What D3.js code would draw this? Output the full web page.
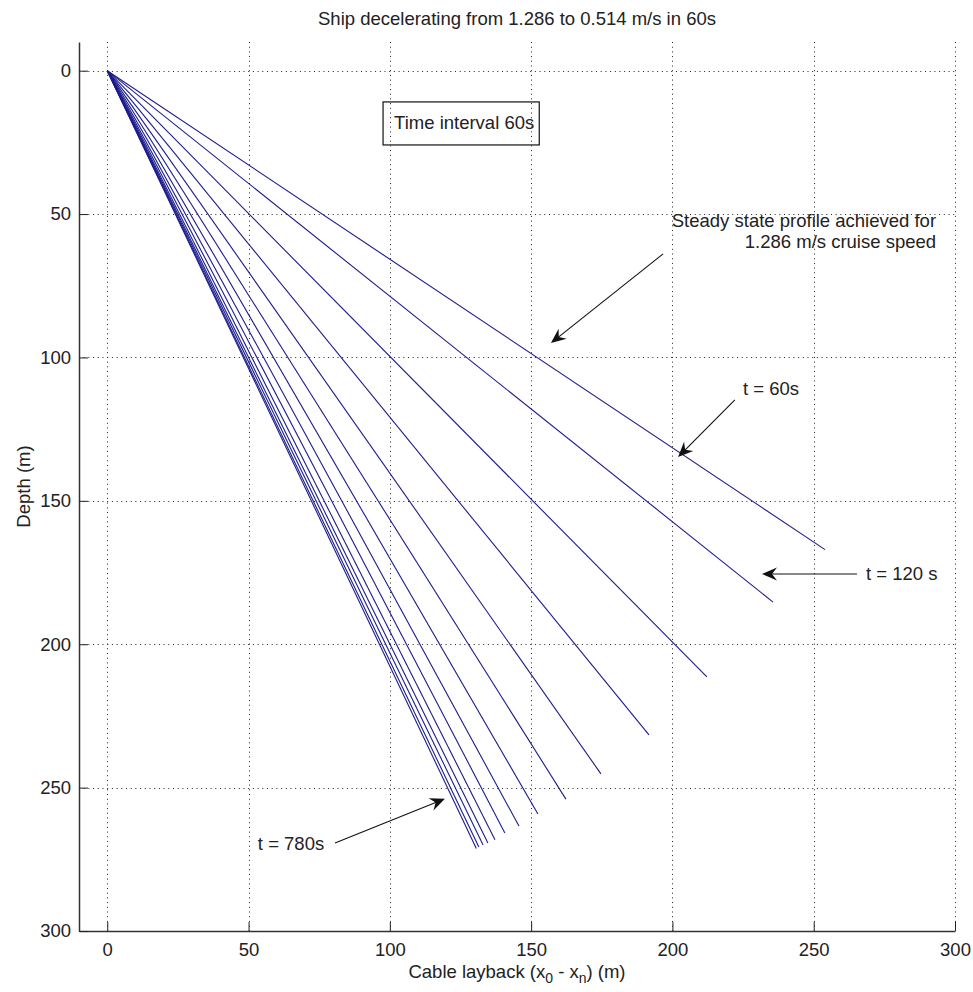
<!DOCTYPE html>
<html>
<head>
<meta charset="utf-8">
<script src="https://cdn.jsdelivr.net/npm/d3@7"></script>
<style>
  body { margin: 0; background: #fff; }
  svg { font-family: "Liberation Sans", Arial, sans-serif; }
</style>
</head>
<body>
<svg id="chart"></svg>
<script>
const width = 973;
const height = 992;

// time of each profile (s) and where the cable end sits
const times = [0, 60, 120, 180, 240, 300, 360, 420, 480, 540, 600, 660, 720, 780];
const layback = [254, 235.6, 212.2, 191.7, 174.7, 162.3, 152.4, 145.7, 140.7, 137.2, 134.7, 133.0, 131.5, 130.6];
const depth = [167, 185.3, 211.4, 231.6, 245.2, 254.0, 259.2, 263.4, 265.8, 268.2, 269.3, 270.0, 270.7, 271.2];

const xTicks = [0, 50, 100, 150, 200, 250, 300];
const yTicks = [0, 50, 100, 150, 200, 250, 300];

const margin = { top: 42, right: 18, bottom: 61, left: 79 };

const svg = d3.select("#chart").attr("width", width).attr("height", height);

const x = d3.scaleLinear().domain([-10, 300]).range([margin.left, width - margin.right]);
const y = d3.scaleLinear().domain([-10, 300]).range([margin.top, height - margin.bottom]);

const fontSize = 18.5;

// grid (dotted)
const grid = svg.append("g").attr("stroke", "#222").attr("stroke-width", 1).attr("stroke-dasharray", "1,3.7");
grid.selectAll("line.v").data(xTicks).enter().append("line")
  .attr("x1", d => Math.round(x(d)) + 0.5).attr("x2", d => Math.round(x(d)) + 0.5)
  .attr("y1", y.range()[0]).attr("y2", y.range()[1]);
grid.selectAll("line.h").data(yTicks).enter().append("line")
  .attr("y1", d => Math.round(y(d)) + 0.5).attr("y2", d => Math.round(y(d)) + 0.5)
  .attr("x1", x.range()[0]).attr("x2", x.range()[1]);

// axes, ticks pointing inwards like matlab
const xAxis = d3.axisBottom(x).tickValues(xTicks).tickSizeInner(-9).tickSizeOuter(0).tickPadding(12);
const yAxis = d3.axisLeft(y).tickValues(yTicks).tickSizeInner(-9).tickSizeOuter(0).tickPadding(8);

const gx = svg.append("g").attr("transform", `translate(0,${y.range()[1]})`).call(xAxis);
const gy = svg.append("g").attr("transform", `translate(${x.range()[0]},0)`).call(yAxis);
[gx, gy].forEach(g => {
  g.select(".domain").attr("stroke", "#333").attr("stroke-width", 1.5);
  g.selectAll(".tick line").attr("stroke", "#222");
  g.selectAll(".tick text").attr("fill", "#222").style("font-size", fontSize + "px")
    .style("font-family", "'Liberation Sans', Arial, sans-serif");
});

// cable profiles
const line = d3.line().x(d => x(d[0])).y(d => y(d[1]));
svg.append("g").selectAll("path")
  .data(times.map((t, i) => [[0, 0], [layback[i], depth[i]]]))
  .enter().append("path")
  .attr("d", line)
  .attr("fill", "none")
  .attr("stroke", "#1c1c8c")
  .attr("stroke-width", 1.1);

// title and labels
svg.append("text").attr("x", (x.range()[0] + x.range()[1]) / 2).attr("y", 25)
  .attr("text-anchor", "middle").style("font-size", fontSize + "px").attr("fill", "#222")
  .text("Ship decelerating from 1.286 to 0.514 m/s in 60s");

const xl = svg.append("text").attr("x", (x.range()[0] + x.range()[1]) / 2).attr("y", 978)
  .attr("text-anchor", "middle").style("font-size", fontSize + "px").attr("fill", "#222");
xl.append("tspan").text("Cable layback (x");
xl.append("tspan").attr("dy", 5).style("font-size", "14px").text("0");
xl.append("tspan").attr("dy", -5).text(" - x");
xl.append("tspan").attr("dy", 5).style("font-size", "14px").text("n");
xl.append("tspan").attr("dy", -5).text(") (m)");

svg.append("text").attr("transform", `translate(30,${(y.range()[0] + y.range()[1]) / 2}) rotate(-90)`)
  .attr("text-anchor", "middle").style("font-size", fontSize + "px").attr("fill", "#222")
  .text("Depth (m)");

// boxed note
const note = svg.append("text").attr("x", x(101.5)).attr("y", y(20.2)).style("font-size", fontSize + "px")
  .attr("fill", "#222").text("Time interval 60s");
const bb = note.node().getBBox();
svg.append("rect").attr("x", x(97.6)).attr("y", y(10.9))
  .attr("width", bb.x + bb.width + 5 - x(97.6)).attr("height", y(25.9) - y(10.9))
  .attr("fill", "none").attr("stroke", "#111").attr("stroke-width", 1.2);

// annotations: text in data units
const labels = [
  { text: "Steady state profile achieved for", x: 293.3, y: 54.5, anchor: "end" },
  { text: "1.286 m/s cruise speed", x: 293.3, y: 61.8, anchor: "end" },
  { text: "t = 60s", x: 225.0, y: 113.1, anchor: "start" },
  { text: "t = 120 s", x: 268.5, y: 177.6, anchor: "start" },
  { text: "t = 780s", x: 53.3, y: 271.7, anchor: "start" }
];
svg.append("g").selectAll("text").data(labels).enter().append("text")
  .attr("x", d => x(d.x)).attr("y", d => y(d.y))
  .attr("text-anchor", d => d.anchor)
  .style("font-size", fontSize + "px").attr("fill", "#222")
  .text(d => d.text);

// arrows: [tail, tip]
const arrows = [
  [[196.7, 63.9], [157.0, 95.0]],
  [[222.1, 114.8], [202.0, 134.7]],
  [[265.3, 175.5], [231.7, 175.5]],
  [[80.6, 269.3], [119.5, 253.9]]
];
const ag = svg.append("g");
arrows.forEach(([a, b]) => {
  const x0 = x(a[0]), y0 = y(a[1]), x1 = x(b[0]), y1 = y(b[1]);
  const ang = Math.atan2(y1 - y0, x1 - x0);
  ag.append("line").attr("x1", x0).attr("y1", y0)
    .attr("x2", x1 - 8 * Math.cos(ang)).attr("y2", y1 - 8 * Math.sin(ang))
    .attr("stroke", "#111").attr("stroke-width", 1.1);
  // concave arrow head
  const L = 15, W = 6.5, back = 10;
  const p = (u, v) => [x1 + u * Math.cos(ang) - v * Math.sin(ang), y1 + u * Math.sin(ang) + v * Math.cos(ang)];
  const pts = [p(0, 0), p(-L, W), p(-back, 0), p(-L, -W)];
  ag.append("path").attr("d", "M" + pts.map(q => q.join(",")).join("L") + "Z").attr("fill", "#111");
});
</script>
</body>
</html>
